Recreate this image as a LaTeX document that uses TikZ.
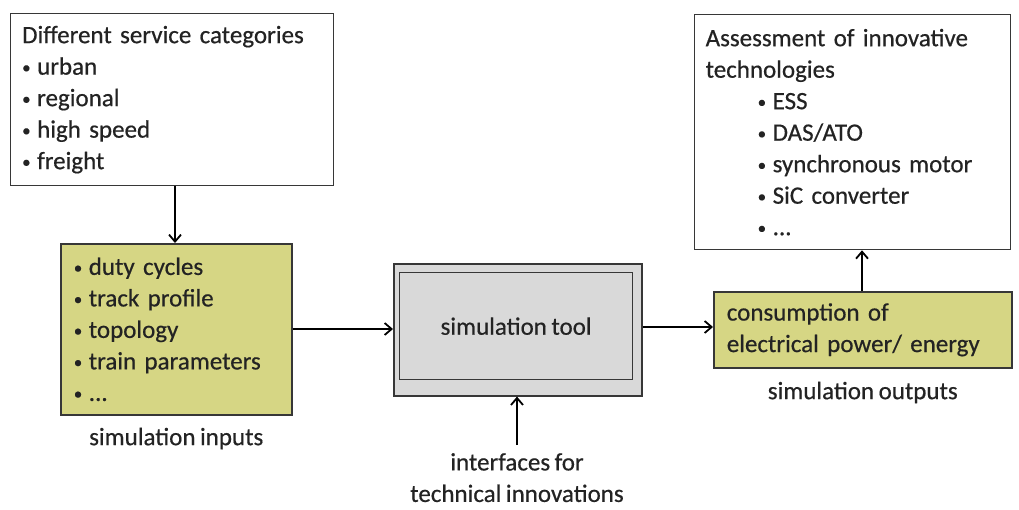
\documentclass[tikz,border=0pt]{standalone}
\usepackage{fontspec}
\setmainfont{Carlito}[WordSpace=0.8, FakeBold=0.5]
\usetikzlibrary{arrows.meta}
\definecolor{olive}{RGB}{214,214,132}
\definecolor{toolgray}{RGB}{217,217,217}
\definecolor{edge}{RGB}{55,55,55}
\definecolor{txt}{RGB}{35,35,35}
\newcommand\bul{\makebox[15pt][l]{\raisebox{1.5pt}{\fontsize{17}{17}\selectfont\textbullet}}}
\begin{document}
\begin{tikzpicture}[x=1pt,y=-1pt,
  every node/.style={font=\fontsize{25}{31.5}\selectfont, text=txt},
  whitebox/.style={draw=edge, line width=1.3pt, fill=white, align=left, inner xsep=11pt, inner ysep=0pt, anchor=north west},
  greenbox/.style={draw=edge, line width=1.6pt, fill=olive, align=left, inner xsep=13pt, inner ysep=0pt, anchor=north west},
  plain/.style={align=center, inner sep=0pt},
  conn/.style={line width=2pt, draw=black, -{Straight Barb[length=7pt,width=12pt,line width=1.8pt]}}
]
\useasboundingbox (0,0) rectangle (1019,509);

\node[whitebox, minimum width=323pt, minimum height=172pt, text width=300pt] (cat) at (10,13)
 {Different service categories\\ \bul urban\\ \bul regional\\ \bul high speed\\ \bul freight};

\node[greenbox, minimum width=231pt, minimum height=171pt, text width=205pt] (inp) at (60,243)
 {\bul duty cycles\\ \bul track profile\\ \bul topology\\ \bul train parameters\\ \bul ...};
\node[plain, anchor=north] (inplab) at (inp.south) [yshift=-12pt] {simulation inputs};

\node[draw=edge, line width=1.6pt, fill=toolgray, minimum width=248pt, minimum height=132pt, anchor=north west, inner sep=0pt] (tool) at (393,263) {};
\node[draw=edge, line width=1.3pt, fill=toolgray, minimum width=233pt, minimum height=107pt, anchor=north west, inner sep=0pt] (toolin) at (399,272) {simulation tool};

\coordinate (ifc) at (517,445);
\node[plain, anchor=north] (ifclab) at (517,453) {interfaces for\\ technical innovations};

\node[greenbox, minimum width=296pt, minimum height=76pt, text width=272pt] (out) at (713,291)
 {consumption of\\ electrical power/ energy};
\node[plain, anchor=north] (outlab) at (out.south) [yshift=-13pt] {simulation outputs};

\node[whitebox, minimum width=316pt, minimum height=235pt, text width=294pt] (ass) at (694,14)
 {Assessment of innovative\\ technologies\\
 \hspace*{52pt}\bul ESS\\
 \hspace*{52pt}\bul DAS/ATO\\
 \hspace*{52pt}\bul synchronous motor\\
 \hspace*{52pt}\bul SiC converter\\
 \hspace*{52pt}\bul ...};

\draw[conn] (cat.south -| 175,0) -- (inp.north -| 175,0);
\draw[conn] (inp.east |- 0,329) -- (tool.west |- 0,329);
\draw[conn] (ifc) -- (tool.south -| ifc);
\draw[conn] (tool.east |- 0,327) -- (out.west |- 0,327);
\draw[conn] (out.north -| 862,0) -- (ass.south -| 862,0);
\end{tikzpicture}
\end{document}
